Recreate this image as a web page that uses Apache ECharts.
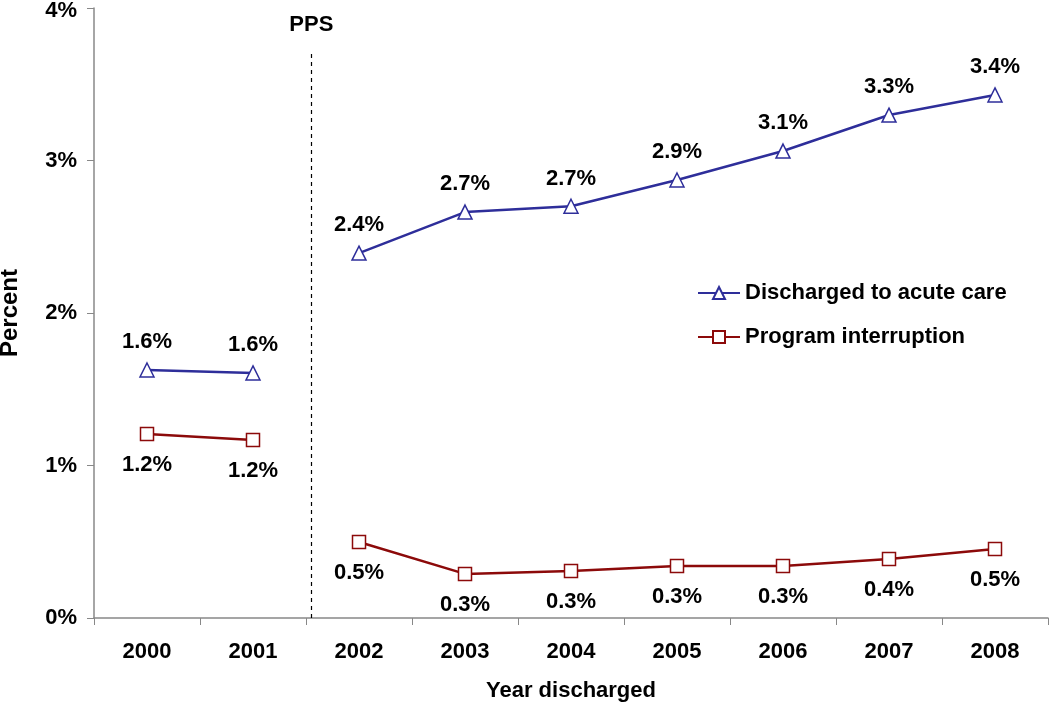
<!DOCTYPE html>
<html>
<head>
<meta charset="utf-8">
<script src="https://cdn.jsdelivr.net/npm/echarts@6/dist/echarts.min.js"></script>
<style>
html,body{margin:0;padding:0;background:#fff;}
#c{width:1050px;height:704px;}
</style>
</head>
<body>
<div id="c"></div>
<script>
const years = ['2000','2001','2002','2003','2004','2005','2006','2007','2008'];
const acuteCare = [1.626, 1.607, 2.393, 2.662, 2.70, 2.872, 3.062, 3.298, 3.43];
const interruption = [1.207, 1.167, 0.498, 0.289, 0.308, 0.341, 0.341, 0.387, 0.452];
const breakIndex = 2; // PPS introduced before 2002
const ppsPosition = 2.05; // position on hidden value axis (category units)
const yTicks = [0, 1, 2, 3, 4];

const FONT = '"Liberation Sans", Arial, sans-serif';
const BLUE = '#2E2E9A';
const RED = '#8C0A0A';
const yMax = yTicks[yTicks.length - 1];

function part(arr, pre) {
  return arr.map((v, i) => (pre ? (i < breakIndex ? v : '-') : (i >= breakIndex ? v : '-')));
}
function mkSeries(name, arr, color, symbol, pos, pre) {
  return {
    name: name,
    type: 'line',
    xAxisIndex: 0,
    data: part(arr, pre),
    symbol: symbol,
    symbolSize: symbol === 'triangle' ? 14 : 13,
    itemStyle: { color: '#fff', borderColor: color, borderWidth: 1.5 },
    lineStyle: { color: color, width: 2.5 },
    label: {
      show: true, position: pos, distance: pos === 'top' ? 9 : 13,
      formatter: p => p.value.toFixed(1) + '%',
      fontFamily: FONT, fontWeight: 'bold', fontSize: 22, color: '#000'
    },
    emphasis: { disabled: true },
    animation: false
  };
}

const chart = echarts.init(document.getElementById('c'));
chart.setOption({
  backgroundColor: '#fff',
  animation: false,
  grid: { left: 94, top: 8, width: 954, height: 610, containLabel: false, outerBoundsMode: 'none' },
  legend: {
    orient: 'vertical', left: 692, top: 277, itemGap: 22,
    itemWidth: 42, itemHeight: 15,
    data: ['Discharged to acute care', 'Program interruption'],
    textStyle: { fontFamily: FONT, fontWeight: 'bold', fontSize: 22, color: '#000' }
  },
  xAxis: [{
    type: 'category', data: years, boundaryGap: true,
    name: 'Year discharged', nameLocation: 'middle', nameGap: 62,
    nameTextStyle: { fontFamily: FONT, fontWeight: 'bold', fontSize: 22, color: '#000' },
    axisLine: { lineStyle: { color: '#888', width: 1.5 } },
    axisTick: { show: true, length: 7, lineStyle: { color: '#888' } },
    axisLabel: { fontFamily: FONT, fontWeight: 'bold', fontSize: 22, color: '#000', margin: 23 },
    splitLine: { show: false }
  }, {
    type: 'value', min: 0, max: years.length, show: false
  }],
  yAxis: {
    type: 'value', min: yTicks[0], max: yMax, interval: 1,
    name: 'Percent', nameLocation: 'middle', nameGap: 72, nameRotate: 90,
    nameTextStyle: { fontFamily: FONT, fontWeight: 'bold', fontSize: 24, color: '#000' },
    axisLine: { show: true, lineStyle: { color: '#888', width: 1.5 } },
    axisTick: { show: true, length: 7, lineStyle: { color: '#888' } },
    axisLabel: {
      formatter: v => (v === yMax ? '{top|' + v + '%}' : v + '%'),
      rich: { top: { padding: [6, 0, 0, 0], fontFamily: FONT, fontWeight: 'bold', fontSize: 22, color: '#000' } },
      fontFamily: FONT, fontWeight: 'bold', fontSize: 22, color: '#000', margin: 17
    },
    splitLine: { show: false }
  },
  series: [
    mkSeries('Discharged to acute care', acuteCare, BLUE, 'triangle', 'top', true),
    mkSeries('Discharged to acute care', acuteCare, BLUE, 'triangle', 'top', false),
    mkSeries('Program interruption', interruption, RED, 'rect', 'bottom', true),
    mkSeries('Program interruption', interruption, RED, 'rect', 'bottom', false),
    {
      type: 'line', xAxisIndex: 1, data: [], silent: true,
      markLine: {
        silent: true, symbol: ['none', 'none'], animation: false,
        lineStyle: { color: '#000', type: [4, 4], width: 1.2 },
        label: { show: true, position: 'end', formatter: 'PPS', distance: 16,
          fontFamily: FONT, fontWeight: 'bold', fontSize: 22, color: '#000' },
        data: [[{ coord: [ppsPosition, 0] }, { coord: [ppsPosition, 3.71] }]]
      }
    }
  ]
});
</script>
</body>
</html>
